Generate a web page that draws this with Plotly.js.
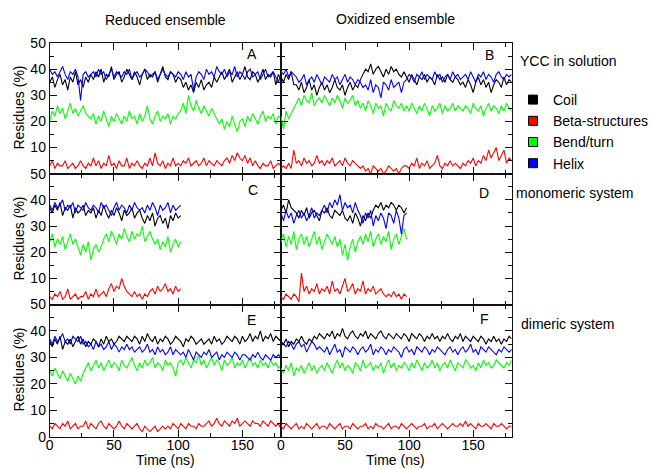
<!DOCTYPE html>
<html>
<head>
<meta charset="utf-8">
<script src="https://cdn.plot.ly/plotly-3.0.1.min.js"></script>
<style>html,body{margin:0;padding:0;background:#fff;}#chart{width:653px;height:469px;}</style>
</head>
<body>
<div id="chart"></div>
<script>
const STEP_NS = 2;
const seriesNames = ["Coil", "Beta-structures", "Bend/turn", "Helix"];
const columnTitles = ["Reduced ensemble", "Oxidized ensemble"];
const rowLabels = ["YCC in solution", "monomeric system", "dimeric system"];
const panelLetters = ["A", "B", "C", "D", "E", "F"];
const xTickVals = [0, 50, 100, 150];
const yTickVals = [0, 10, 20, 30, 40, 50];

// Panel A: reduced, in solution
const coilA = [35,37,33,36,38,34,36,32,37,35,39,34,36,33,37,35,
 38,36,39,37,40,35,38,37,41,36,38,39,35,37,40,38,36,39,37,34,38,40,36,38,37,39,35,38,41,37,36,39,38,35,37,
 36,33,35,32,34,31,35,33,36,32,34,35,33,37,35,
 37,39,36,38,40,35,37,39,36,38,41,37,36,39,38,35,37,40,36,38,37,39,34,38,36];
const betaA = [3,5,2,4,3,3,5,2,3,4,2,3,5,3,2,4,
 3,6,3,5,2,4,3,7,3,4,2,5,3,3,6,2,4,3,5,3,2,4,3,6,3,8,4,3,5,2,4,3,6,3,4,
 3,5,4,6,3,4,5,3,4,6,3,5,4,3,5,
 4,3,5,6,4,7,5,8,6,5,7,4,6,3,5,3,2,4,3,3,5,2,3,4,3];
const bendA = [20,24,22,26,23,25,21,24,27,23,25,22,24,26,23,22,
 21,23,19,22,20,24,21,18,22,20,23,21,19,22,20,24,21,22,19,23,20,22,26,21,19,22,24,20,22,21,23,19,22,21,23,
 24,27,23,30,26,24,28,25,23,26,24,22,25,23,21,
 19,21,17,20,18,22,19,16,20,21,18,22,20,23,21,19,22,24,20,22,21,23,19,22,21];
const helixA = [40,38,39,37,39,41,38,36,39,38,40,37,28,38,39,37,
 38,39,37,40,38,39,36,38,40,37,39,38,37,39,38,40,36,38,39,37,38,40,39,37,38,39,36,38,40,38,37,39,38,37,39,
 38,36,39,37,38,32,37,39,38,36,40,38,39,37,41,
 39,38,40,37,39,38,41,37,39,38,36,39,40,37,38,39,36,38,40,37,38,39,37,35,38];

// Panel B: oxidized, in solution
const coilB = [37,35,38,36,39,34,
 34,32,35,31,33,36,32,34,30,33,35,32,34,31,33,36,33,32,34,30,33,35,32,34,33,
 36,38,40,39,42,38,40,41,39,37,40,38,41,39,40,38,37,39,
 37,35,38,36,34,37,36,38,35,37,36,34,38,36,37,35,38,36,35,37,36,34,
 35,33,36,34,31,35,37,34,36,33,35,31,34,36,35,33,37,34,36,35];
const betaB = [2,3,2,4,2,9,
 4,5,3,6,4,5,3,4,7,4,5,3,5,4,6,3,4,5,3,6,4,3,5,4,3,
 2,3,1,2,0,3,2,1,2,0,1,3,2,1,2,0,2,3,
 3,2,4,3,6,2,4,3,5,2,3,4,7,3,2,4,3,5,3,4,3,2,
 4,3,5,4,6,3,5,4,7,5,9,6,8,10,5,7,9,4,6,5];
const bendB = [22,17,24,21,23,25,
 27,29,26,30,28,27,31,26,28,29,27,30,28,26,29,27,30,28,25,29,27,28,30,26,28,
 25,27,24,28,26,23,27,25,26,22,27,25,24,28,26,25,27,24,
 26,24,27,25,23,26,24,27,25,22,26,24,25,27,23,26,24,25,27,24,26,25,
 24,26,25,23,27,25,24,26,22,25,27,24,26,25,23,26,24,27,25,24];
const helixB = [39,38,40,37,39,38,
 37,35,36,38,34,36,37,35,38,36,34,37,36,35,38,36,37,34,36,38,35,37,36,34,36,
 35,33,34,32,36,31,34,33,29,35,34,32,36,33,34,35,31,35,
 36,38,37,35,38,37,39,36,38,37,36,39,37,38,35,37,38,36,39,37,38,36,
 37,38,36,39,37,35,38,37,39,36,38,37,35,38,39,37,36,38,37,38];

// Panel C: reduced, monomeric system
const coilC = [37,35,38,36,39,34,37,36,38,33,37,35,36,38,34,36,
 35,37,33,36,34,38,35,33,36,34,37,35,32,36,34,35,37,33,35,36,
 33,31,34,32,35,30,33,34,31,33,29,34,32,35,33,34];
const betaC = [3,2,4,3,5,2,3,6,2,3,4,2,3,3,5,2,4,3,6,3,4,5,3,
 6,8,5,7,6,10,7,5,
 4,3,5,3,4,2,4,3,
 5,6,4,7,5,6,8,5,6,4,7,5,6];
const bendC = [24,27,22,25,23,26,21,24,27,23,25,
 22,19,23,20,24,17,21,23,20,22,
 25,27,24,28,26,23,27,25,29,26,24,28,25,27,26,30,24,26,28,25,
 23,25,21,24,22,26,20,23,25,22,24];
const helixC = [38,36,39,37,38,40,36,38,37,39,35,38,37,36,39,37,
 36,38,37,35,39,37,38,36,34,37,39,36,38,37,35,38,36,39,37,36,
 37,35,38,36,39,37,34,38,36,37,39,35,38,36,37,38];

// Panel D: oxidized, monomeric system
const coilD = [36,38,35,40,37,36,
 35,33,36,34,37,33,35,36,34,32,36,35,37,34,33,36,35,34,36,33,
 32,34,31,35,33,30,34,32,35,33,
 36,38,37,39,36,38,37,39,38,36,38,37,35,37];
const betaD = [3,2,4,3,2,4,3,1,
 12,5,7,4,6,5,8,4,6,5,7,4,9,5,6,4,7,10,5,6,8,4,6,5,9,4,6,5,7,4,5,6,4,
 3,4,3,5,3,4,2,4,3];
const bendD = [24,27,22,26,23,28,21,25,27,23,26,22,25,28,23,26,21,24,27,25,23,
 26,22,25,19,23,17,22,25,20,24,
 26,23,27,24,28,22,25,27,23,26,24,28,21,25,27,23,26,29,25];
const helixD = [35,32,36,33,35,31,34,36,33,35,32,34,37,33,35,34,
 36,38,35,39,37,40,38,42,36,39,37,38,35,39,36,
 34,31,35,33,36,30,34,32,35,33,29,35,34,31,36,33,27,34,35];

// Panel E: reduced, dimeric system
const coilE = [36,34,37,35,38,33,36,35,37,34,36,38,35,37,34,36,35,37,36,34,37,35,38,36,37,35,36,38,37,36,38,
 37,36,38,37,35,38,36,39,37,36,38,35,37,36,38,37,35,36,38,37,36,34,37,36,38,37,35,36,37,35,
 36,37,35,38,36,37,35,36,38,37,36,38,37,35,38,36,37,39,36,38,37,40,36,38,37,39,36,38,37,36];
const betaE = [4,3,5,4,3,5,4,6,3,4,5,3,4,4,6,3,5,4,3,5,6,4,3,5,4,3,4,6,4,3,5,4,3,4,5,
 3,2,4,3,2,3,4,2,3,4,3,4,3,5,
 4,3,5,4,3,5,4,4,3,5,4,4,
 5,6,4,5,7,5,4,6,5,4,6,5,7,4,5,6,5,4,6,5,5,4,6,5,4,6,5,4,5,3];
const bendE = [25,23,26,24,22,25,23,21,24,22,20,23,21,
 24,26,28,25,27,29,26,28,25,27,29,26,28,27,25,29,27,26,28,30,27,25,28,26,29,27,28,30,26,28,27,25,29,27,28,26,23,28,
 29,27,30,28,26,29,28,31,27,29,26,28,30,27,29,28,25,29,27,28,30,26,28,27,29,26,28,30,27,28,26,29,27,28,26,29,27,28,26,27];
const helixE = [37,35,38,36,37,39,36,37,35,38,37,36,38,
 35,36,34,35,33,36,34,35,33,34,36,33,35,34,32,34,33,35,33,34,32,33,34,32,33,35,32,33,31,34,32,33,31,32,34,31,33,32,
 31,32,30,33,31,29,32,31,30,32,31,33,30,31,32,29,31,30,32,31,30,32,31,29,31,
 31,30,29,31,30,32,30,29,31,30,29,31,30,31,30];

// Panel F: oxidized, dimeric system
const coilF = [36,35,37,34,36,35,37,36,38,36,35,37,36,38,37,39,
 38,37,39,38,40,37,39,38,41,38,37,39,40,38,37,39,38,40,37,39,38,37,39,40,38,37,39,38,37,39,
 38,37,39,38,36,39,38,37,39,38,36,38,37,39,37,38,36,38,37,39,37,36,38,37,39,36,38,37,36,38,37,36,38,37,35,37,36,38,36,37,35,37,36,38,37];
const betaF = [4,3,5,4,3,4,5,3,4,3,5,4,3,4,5,3,4,4,3,5,4,3,4,5,3,4,4,3,5,4,3,4,4,5,3,4,3,5,4,4,3,4,5,3,4,
 4,3,5,4,3,4,5,4,3,4,4,5,3,4,4,5,3,4,5,4,3,4,5,4,4,5,4,6,4,5,4,3,5,4,4,5,4,3,5,4,4,5,4,3,4,4];
const bendF = [26,24,27,25,28,23,26,25,27,24,26,28,25,27,24,26,
 27,25,28,26,24,27,29,26,28,25,27,26,24,28,27,25,29,26,27,28,25,27,26,28,24,27,29,26,28,25,27,26,28,27,25,28,26,29,27,25,28,26,27,29,26,28,25,27,28,26,29,27,25,28,27,26,29,28,26,27,25,28,26,29,27,28,26,27,29,28,27,26,28,27,29];
const helixF = [36,35,34,36,35,33,35,36,34,35,32,34,36,35,33,34,
 33,32,34,31,33,35,32,33,30,34,33,32,34,33,31,33,34,32,33,35,31,33,32,34,33,31,33,32,34,33,32,30,33,34,32,33,31,34,33,32,34,33,31,33,32,34,33,32,31,33,34,32,33,31,33,34,32,33,35,32,33,31,34,33,32,34,33,32,31,33,32,34,33,32,33];

// ---- styles ----
const colors = ["#000000", "#ff0000", "#00ff00", "#0000ff"];
const W = 653, H = 469;
const px = v => v / W;
const py = v => 1 - v / H;

const panels = [
  {xa: "x",  ya: "y",  data: [coilA, betaA, bendA, helixA]},
  {xa: "x2", ya: "y2", data: [coilB, betaB, bendB, helixB]},
  {xa: "x3", ya: "y3", data: [coilC, betaC, bendC, helixC]},
  {xa: "x4", ya: "y4", data: [coilD, betaD, bendD, helixD]},
  {xa: "x5", ya: "y5", data: [coilE, betaE, bendE, helixE]},
  {xa: "x6", ya: "y6", data: [coilF, betaF, bendF, helixF]}
];

const traces = [];
panels.forEach(p => {
  p.data.forEach((vals, k) => {
    traces.push({
      type: "scatter", mode: "lines",
      x: vals.map((_, i) => i * STEP_NS), y: vals,
      xaxis: p.xa, yaxis: p.ya,
      line: {color: colors[k], width: 1.1},
      name: seriesNames[k], showlegend: false, hoverinfo: "skip"
    });
  });
});
// legend entries (square keys)
seriesNames.forEach((nm, k) => {
  traces.push({
    type: "scatter", mode: "markers", x: [null], y: [null],
    xaxis: "x", yaxis: "y", name: nm, showlegend: true,
    marker: {symbol: "square", size: 9, color: colors[k], line: {color: "#000", width: 1}}
  });
});

const font = {family: "Liberation Sans, Arial, sans-serif", size: 14, color: "#000"};
const xDom = [[px(51), px(288)], [px(288), px(524.5)]];
const yDom = [[py(173.7), py(43)], [py(304.5), py(173.7)], [py(436.8), py(304.5)]];
const frame = {showline: true, linecolor: "#111", linewidth: 1, mirror: "ticks",
  ticks: "inside", ticklen: 7, tickwidth: 1, tickcolor: "#111",
  showgrid: false, zeroline: false, tickfont: font, fixedrange: true};

const layout = {
  width: W, height: H, margin: {l: 0, r: 0, t: 0, b: 0},
  paper_bgcolor: "#fff", plot_bgcolor: "#fff", font: font,
  showlegend: true,
  legend: {x: px(526), y: py(84), xanchor: "left", yanchor: "top",
    font: font, bgcolor: "rgba(0,0,0,0)", borderwidth: 0, tracegroupgap: 0, itemwidth: 30},
  annotations: [],
  shapes: []
};

for (let i = 0; i < 6; i++) {
  const row = Math.floor(i / 2), col = i % 2;
  const sfx = i === 0 ? "" : String(i + 1);
  const bottom = row === 2, left = col === 0;
  layout["xaxis" + sfx] = Object.assign({}, frame, {
    domain: xDom[col], range: [0, 180], anchor: "y" + sfx,
    tickmode: "array", tickvals: xTickVals, ticktext: xTickVals.map(String),
    showticklabels: bottom, ticklabelstandoff: -5,
    minor: {tickmode: "array", tickvals: [25, 75, 125, 175], ticks: "inside", ticklen: 4, tickwidth: 1, tickcolor: "#111"}
  });
  layout["yaxis" + sfx] = Object.assign({}, frame, {
    domain: yDom[row], range: [0, 50], anchor: "x" + sfx,
    tickmode: "array", tickvals: yTickVals,
    ticktext: yTickVals.map(v => (v === 0 && !bottom) ? "" : String(v)),
    showticklabels: left,
    minor: {tickmode: "array", tickvals: [5, 15, 25, 35, 45], ticks: "inside", ticklen: 4, tickwidth: 1, tickcolor: "#111"}
  });
}

const ann = (text, x, y, opts) => layout.annotations.push(Object.assign({
  text: text, xref: "paper", yref: "paper", x: px(x), y: py(y),
  showarrow: false, font: font, xanchor: "center", yanchor: "middle"}, opts || {}));

ann(columnTitles[0], 170, 20);
ann(columnTitles[1], 405, 19);
ann(rowLabels[0], 531, 61, {xanchor: "left"});
ann(rowLabels[1], 527, 193, {xanchor: "left"});
ann(rowLabels[2], 532, 324, {xanchor: "left"});
[[258, 54], [502, 55], [259, 190], [496, 193], [258, 320], [497, 319]].forEach((p, i) =>
  ann(panelLetters[i], p[0], p[1]));
[108, 239, 370].forEach(y => ann("Residues (%)", 19, y, {textangle: -90}));
ann("Time (ns)", 170, 469, {yanchor: "bottom", borderpad: 0});
ann("Time (ns)", 405, 469, {yanchor: "bottom", borderpad: 0});

Plotly.newPlot("chart", traces, layout, {staticPlot: true, displayModeBar: false});
</script>
</body>
</html>
